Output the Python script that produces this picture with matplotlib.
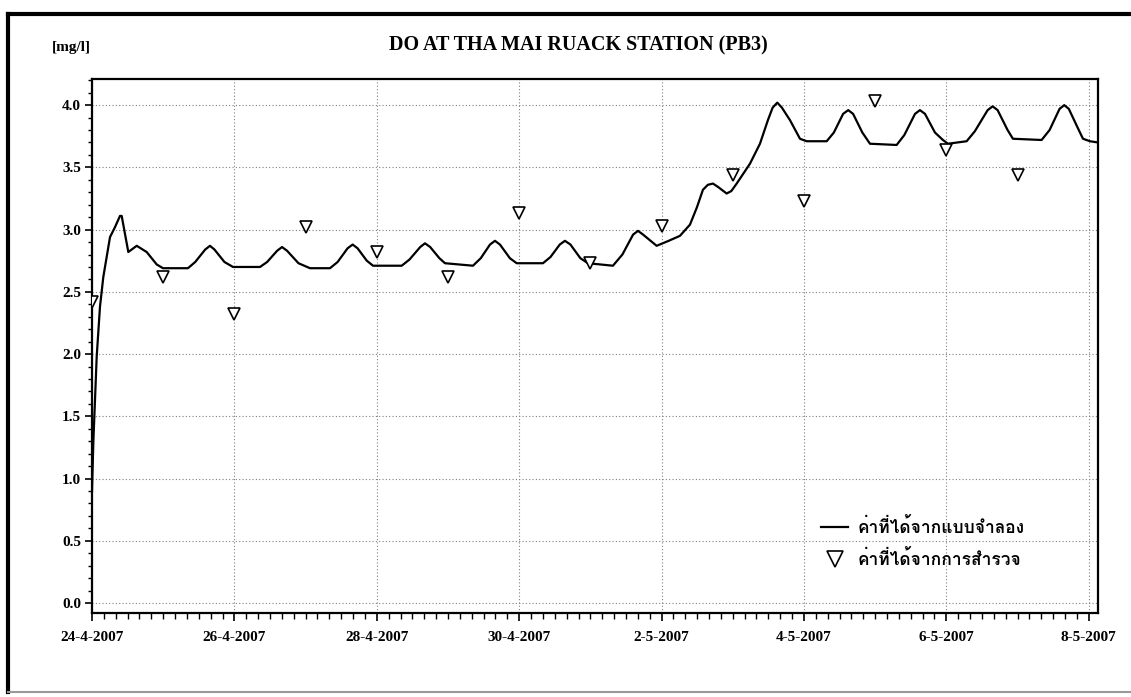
import datetime as dt
import numpy as np
import matplotlib
matplotlib.use("Agg")
import matplotlib.pyplot as plt
import matplotlib.dates as mdates
from matplotlib import font_manager as fm
from matplotlib.lines import Line2D
from matplotlib.ticker import MultipleLocator, FuncFormatter, FixedLocator
from fontTools.ttLib import TTFont

# simulated DO (days after 24-4-2007 00:00, mg/l)
model_days = [0.0, 0.018, 0.066, 0.112, 0.159, 0.253, 0.323, 0.393, 0.417, 0.510,
              0.628, 0.768, 0.909, 0.997, 1.348, 1.45, 1.59, 1.657, 1.72, 1.86, 1.980,
              2.360, 2.46, 2.60, 2.669, 2.74, 2.90, 3.062, 3.343, 3.45, 3.59, 3.661,
              3.73, 3.86, 3.947, 4.350, 4.46, 4.61, 4.677, 4.75, 4.88, 4.958, 5.351,
              5.46, 5.59, 5.660, 5.73, 5.87, 5.965, 6.334, 6.44, 6.57, 6.643, 6.72,
              6.86, 6.966, 7.317, 7.45, 7.60, 7.669, 7.74, 7.931, 8.10, 8.258, 8.399,
              8.497, 8.581, 8.65, 8.722, 8.80, 8.914, 8.98, 9.055, 9.242, 9.382, 9.494,
              9.56, 9.625, 9.69, 9.803, 9.944, 10.038, 10.319, 10.42, 10.55, 10.622,
              10.69, 10.82, 10.927, 11.302, 11.41, 11.56, 11.629, 11.70, 11.84, 11.952,
              12.022, 12.285, 12.40, 12.58, 12.650, 12.72, 12.86, 12.935, 13.338, 13.45,
              13.59, 13.656, 13.72, 13.86, 13.919, 14.017, 14.13]
model_do = [0.90, 1.28, 1.98, 2.38, 2.62, 2.94, 3.02, 3.11, 3.11, 2.82,
            2.87, 2.82, 2.72, 2.69, 2.69, 2.74, 2.84, 2.87, 2.84, 2.74, 2.70,
            2.70, 2.74, 2.83, 2.86, 2.83, 2.73, 2.69, 2.69, 2.74, 2.85, 2.88,
            2.85, 2.75, 2.71, 2.71, 2.76, 2.86, 2.89, 2.86, 2.77, 2.73, 2.71,
            2.77, 2.88, 2.91, 2.88, 2.77, 2.73, 2.73, 2.78, 2.88, 2.91, 2.88,
            2.77, 2.73, 2.71, 2.80, 2.96, 2.99, 2.96, 2.87, 2.91, 2.95, 3.04,
            3.18, 3.32, 3.36, 3.37, 3.34, 3.29, 3.31, 3.37, 3.53, 3.69, 3.88,
            3.98, 4.02, 3.98, 3.88, 3.73, 3.71, 3.71, 3.78, 3.93, 3.96,
            3.93, 3.78, 3.69, 3.68, 3.76, 3.93, 3.96, 3.93, 3.78, 3.72,
            3.69, 3.71, 3.79, 3.96, 3.99, 3.96, 3.80, 3.73, 3.72, 3.80,
            3.97, 4.00, 3.97, 3.80, 3.73, 3.71, 3.70]

# field survey DO
obs_days = [0, 1, 2, 3, 4, 5, 6, 7, 8, 9, 10, 11, 12, 13]
obs_do = [2.42, 2.62, 2.32, 3.02, 2.82, 2.62, 3.13, 2.73, 3.03, 3.44, 3.23, 4.03, 3.64, 3.44]

start = dt.datetime(2007, 4, 24)
tick_days = [0, 2, 4, 6, 8, 10, 12, 14]
title = "DO AT THA MAI RUACK STATION (PB3)"
unit = "[mg/l]"
label_model = "ค่าที่ได้จากแบบจำลอง"
label_obs = "ค่าที่ได้จากการสำรวจ"


def find_font(ch):
    for f in fm.fontManager.ttflist:
        try:
            cmap = TTFont(f.fname, fontNumber=0, lazy=True).getBestCmap()
        except Exception:
            continue
        if cmap and ord(ch) in cmap:
            return f.name
    return None


thai = find_font("ค")
serif = "Liberation Serif"
thai_family = [thai, serif] if thai else [serif]

to_dates = lambda days: [start + dt.timedelta(days=d) for d in days]
t_model = to_dates(model_days)
t_obs = to_dates(obs_days)

W, H = 1131, 697
fig = plt.figure(figsize=(W / 100, H / 100), dpi=100)
ax = fig.add_axes([92 / W, 1 - 613 / H, (1098 - 92) / W, (613 - 79) / H])

ax.plot(t_model, model_do, color="black", lw=1.6, label=label_model, zorder=3)
ax.plot(t_obs, obs_do, ls="none", marker="v", ms=8, mfc="white", mec="black",
        mew=1.2, label=label_obs, zorder=4)

ax.set_xlim(start, start + dt.timedelta(days=14.13))
ax.set_ylim(-0.08, 4.21)

ax.xaxis.set_major_locator(FixedLocator(mdates.date2num(to_dates(tick_days))))
ax.xaxis.set_minor_locator(mdates.HourLocator(byhour=range(0, 24, 4)))
ax.xaxis.set_major_formatter(
    FuncFormatter(lambda v, p: "{0.day}-{0.month}-{0.year}".format(mdates.num2date(v))))
ax.yaxis.set_major_locator(MultipleLocator(0.5))
ax.yaxis.set_minor_locator(MultipleLocator(0.1))
ax.yaxis.set_major_formatter(FuncFormatter(lambda v, p: f"{v:.1f}"))

ax.tick_params(axis="x", which="major", length=6, width=1.2, pad=7)
ax.tick_params(axis="x", which="minor", length=4, width=1.0)
ax.tick_params(axis="y", which="major", length=5, width=1.2, pad=3)
ax.tick_params(axis="y", which="minor", length=3, width=1.0)
for lab in ax.get_xticklabels() + ax.get_yticklabels():
    lab.set_fontfamily(serif)
    lab.set_fontweight("bold")
    lab.set_fontsize(11)

for s in ax.spines.values():
    s.set_linewidth(1.6)

ax.grid(True, which="major", ls=(0, (1, 2)), color="#808080", lw=0.8)

fig.text(578 / W, 1 - 45 / H, title, ha="center", va="center",
         family=serif, weight="bold", fontsize=14.5)
fig.text(52 / W, 1 - 47 / H, unit, ha="left", va="center",
         family=serif, weight="bold", fontsize=11)

ax.legend(loc="upper left", bbox_to_anchor=((812 - 92) / 1006, (613 - 508) / 534),
          frameon=False, borderpad=0, handlelength=1.6, labelspacing=0.75,
          handletextpad=0.5, markerscale=1.4,
          prop=fm.FontProperties(family=thai_family, weight="bold", size=12.5))

# outer frame
fig.add_artist(Line2D([8 / W, 1.0], [1 - 14 / H] * 2, color="black", lw=3))
fig.add_artist(Line2D([8 / W] * 2, [1 - 14 / H, 1 - 692 / H], color="black", lw=3))
fig.add_artist(Line2D([8 / W, 1.0], [1 - 692 / H] * 2, color="#999999", lw=1.5))

fig.savefig("out.png", dpi=100)
